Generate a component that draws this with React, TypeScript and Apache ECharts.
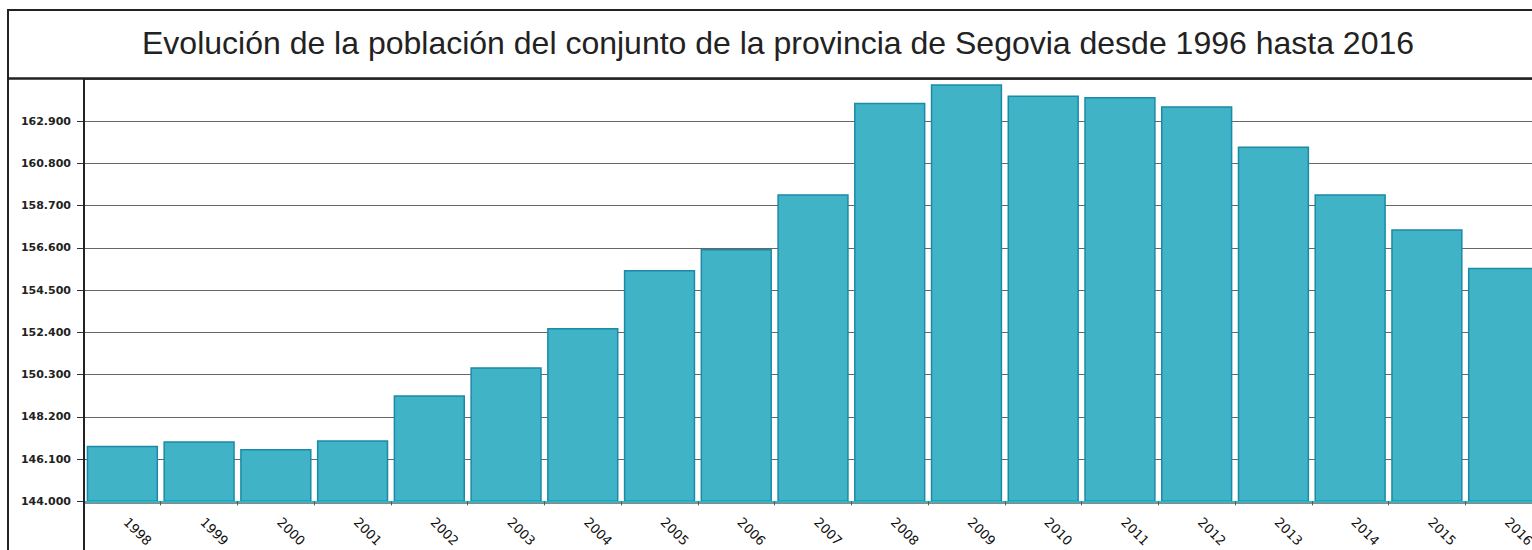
import React, { useEffect, useRef } from "react";
import * as echarts from "echarts";

const TITLE = "Evolución de la población del conjunto de la provincia de Segovia desde 1996 hasta 2016";
const years = ["1998", "1999", "2000", "2001", "2002", "2003", "2004", "2005", "2006", "2007", "2008", "2009", "2010", "2011", "2012", "2013", "2014", "2015", "2016"];
const population = [146767, 146984, 146604, 147034, 149272, 150670, 152617, 155498, 156550, 159268, 163813, 164737, 164179, 164110, 163650, 161640, 159268, 157524, 155611];
const yMin = 144000;
const yMax = 165000;
const yStep = 2100;

const fmt = (v: number) => Math.round(v).toString().replace(/\B(?=(\d{3})+(?!\d))/g, ".");

export default function App() {
  const ref = useRef<HTMLDivElement>(null);
  useEffect(() => {
    if (!ref.current) return;
    const chart = echarts.init(ref.current, undefined, { renderer: "svg" });
    chart.setOption({
      animation: false,
      backgroundColor: "#ffffff",
      title: {
        text: TITLE,
        left: 773,
        top: 22,
        textAlign: "center",
        textStyle: { fontFamily: "Liberation Sans", fontSize: 32, fontWeight: "normal", color: "#222222" },
      },
      grid: { left: 84, top: 79, right: 0, bottom: 48, containLabel: false },
      xAxis: [
        {
          type: "category",
          data: years,
          z: 5,
          axisLine: { lineStyle: { color: "#19bdd6", width: 2 } },
          axisTick: { show: true, length: 4, lineStyle: { color: "#555555" } },
          axisLabel: { rotate: -45, margin: 15, padding: [0, 0, 0, 5], fontFamily: "DejaVu Sans", fontSize: 13, color: "#111111" },
        },
        {
          type: "category",
          data: years,
          position: "bottom",
          offset: 2,
          z: 4,
          axisLine: { lineStyle: { color: "#c8735a", width: 1 } },
          axisTick: { show: false },
          axisLabel: { show: false },
        },
      ],
      yAxis: {
        type: "value",
        min: yMin,
        max: yMax,
        interval: yStep,
        axisLine: { show: true, lineStyle: { color: "#222222", width: 2 } },
        axisTick: { show: true, length: 7, lineStyle: { color: "#333333" } },
        axisLabel: {
          margin: 13,
          showMaxLabel: false,
          padding: [0, 0, 5, 0],
          fontFamily: "DejaVu Sans",
          fontWeight: "bold",
          fontSize: 11,
          color: "#222222",
          formatter: (v: number) => fmt(v),
        },
        splitLine: { lineStyle: { color: "#666666", width: 1 } },
      },
      series: [
        {
          type: "bar",
          data: population,
          barCategoryGap: "7%",
          itemStyle: { color: "#40b3c7", borderColor: "#1b8aa6", borderWidth: 1.5 },
        },
      ],
      graphic: [
        { type: "rect", shape: { x: 8, y: 10, width: 1600, height: 600 }, style: { fill: "none", stroke: "#222222", lineWidth: 2 }, z: 10 },
        { type: "line", shape: { x1: 8, y1: 78.5, x2: 1550, y2: 78.5 }, style: { stroke: "#222222", lineWidth: 2.5 }, z: 10 },
        { type: "line", shape: { x1: 84, y1: 79, x2: 84, y2: 560 }, style: { stroke: "#222222", lineWidth: 2 }, z: 10 },
      ],
    });
    return () => chart.dispose();
  }, []);
  return (
    <div style={{ position: "fixed", left: 0, top: 0, width: 1532, height: 550, overflow: "hidden" }}>
      <div ref={ref} style={{ width: 1542, height: 550 }} />
    </div>
  );
}
